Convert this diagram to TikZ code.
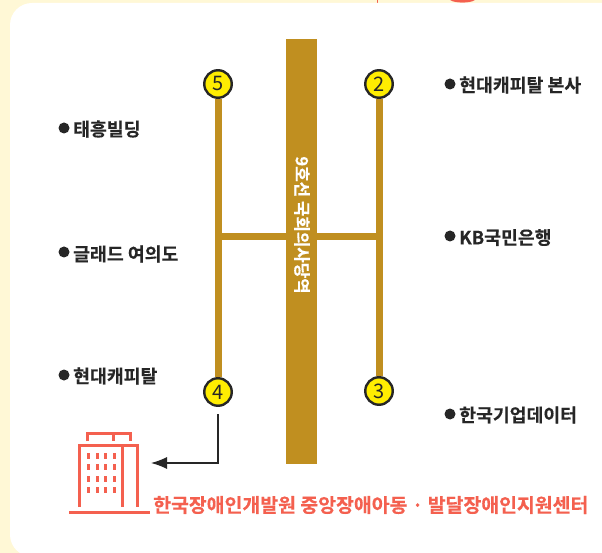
\documentclass[tikz,border=0pt]{standalone}
\usepackage{fontspec}
\setmainfont{Noto Sans CJK KR}[BoldFont={Noto Sans CJK KR Bold},BoldFeatures={FakeBold=0.25}]
\usetikzlibrary{arrows.meta}
\definecolor{cream}{HTML}{FFF8D6}
\definecolor{gold}{HTML}{C08F20}
\definecolor{coral}{HTML}{F4604F}
\definecolor{ink}{HTML}{262626}
\tikzset{
  station/.style={circle,draw=ink,line width=2.4pt,fill=yellow!95!orange,minimum size=27.5pt,inner sep=0pt,text=ink,font=\fontsize{20}{20}\selectfont},
  place/.style={anchor=west,inner sep=0pt,text=ink,font=\bfseries\fontsize{18.3}{19}\selectfont},
  dot/.style={circle,fill=ink,minimum size=11pt,inner sep=0pt},
  rail/.style={draw=gold,line width=7pt},
  icon/.style={draw=coral,line width=3pt},
}
\begin{document}
\begin{tikzpicture}[x=1pt,y=-1pt]
\useasboundingbox (0,0) rectangle (602,553);
\fill[cream] (0,0) rectangle (602,553);
\fill[coral] (376.5,0) rectangle (378,3);
\fill[coral] (450,0) .. controls (455,3.5) and (470,3.5) .. (475,0) -- cycle;
\fill[white,rounded corners=22pt] (10,556.6) rectangle (625,3);
% rails
\node[station] (s5) at (218,84) {5};
\node[station] (s2) at (379,84) {2};
\node[station] (s4) at (218,392) {4};
\node[station] (s3) at (379,391) {3};
\draw[rail] (s5.south) -- (s4.north);
\draw[rail] (s2.south) -- (s3.north);
\coordinate (jl) at (218,237);
\coordinate (jr) at (379,237);
\draw[rail] (jl) -- (jr);
\node[fill=gold,minimum width=31pt,minimum height=425pt,inner sep=0pt] (line) at (301.5,251.5) {};
\node[rotate=-90,text=white,font=\bfseries\fontsize{16.8}{17}\selectfont,inner sep=0pt] (name) at (302,225) {9호선 국회의사당역};
% left places
\node[dot] (d1) at (64,128) {};
\node[place] (p1) at (73,129) {태흥빌딩};
\node[dot] (d2) at (64,252) {};
\node[place] (p2) at (73,254) {글래드 여의도};
\node[dot] (d3) at (64,375) {};
\node[place] (p3) at (73,376) {현대캐피탈};
% right places
\node[dot] (d4) at (450,84) {};
\node[place] (p4) at (459,85) {현대캐피탈 본사};
\node[dot] (d5) at (450,236) {};
\node[place] (p5) at (459,237.5) {KB국민은행};
\node[dot] (d6) at (450,414) {};
\node[place] (p6) at (459,415) {한국기업데이터};
% arrow
\coordinate (target) at (151,463);
\coordinate (bend) at (218,463);
\coordinate (start) at (218,414);
\draw[ink,line width=1.1pt,-{Latex[length=16pt,width=12pt]}] (start) -- (bend) -- (target);
% building
\draw[icon] (69,512) -- (150,512);
\draw[icon] (79,507) -- (79,445) -- (137,445) -- (137,507);
\draw[icon] (122.7,445) -- (122.7,507);
\draw[icon] (87,441) -- (87,433) -- (130,433) -- (130,441);
\draw[icon] (113,433) -- (113,441);
\foreach \x in {88,97,105,114}
  \foreach \y in {456,467,479,490}
    \fill[coral] (\x-1.5,\y-2.8) rectangle (\x+1.5,\y+2.8);
\node[anchor=west,inner sep=0pt,text=coral,font=\bfseries\fontsize{19.4}{20}\selectfont] (title) at (153,505) {한국장애인개발원 중앙장애아동 · 발달장애인지원센터};
\end{tikzpicture}
\end{document}
